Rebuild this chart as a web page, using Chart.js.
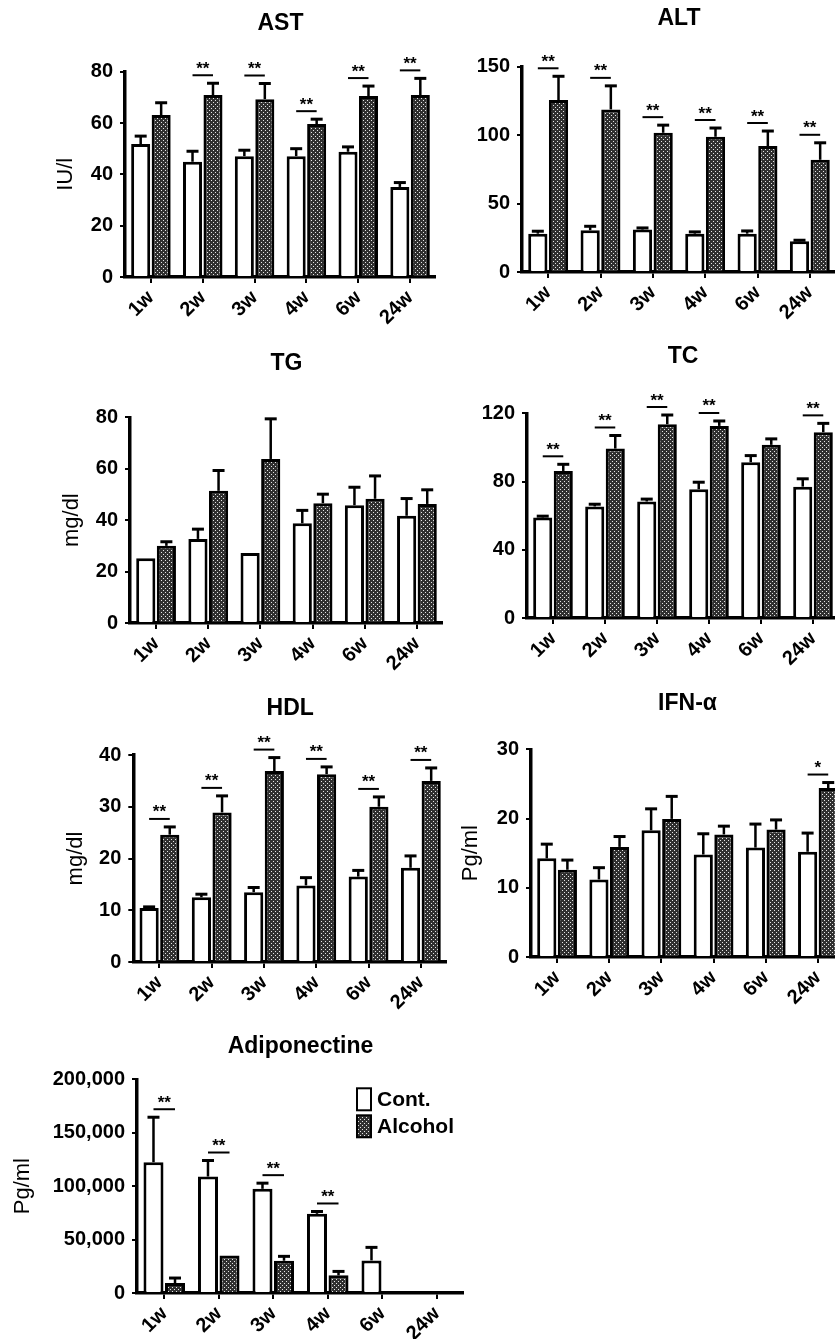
<!DOCTYPE html>
<html>
<head>
<meta charset="utf-8">
<script src="https://cdn.jsdelivr.net/npm/chart.js@4/dist/chart.umd.min.js"></script>
<style>
  html, body { margin: 0; padding: 0; background: #fff; }
  body { width: 835px; height: 1339px; overflow: hidden; position: relative; }
  canvas { position: absolute; }
</style>
</head>
<body>
<script>
// categories
var weeks = ['1w', '2w', '3w', '4w', '6w', '24w'];

// AST (IU/l)
var astTicks = [0, 20, 40, 60, 80];
var astCont = [51.8, 44.9, 47.1, 47.1, 48.8, 35.1];
var astContErr = [3.1, 4.1, 2.3, 2.9, 1.9, 1.7];
var astAlc = [63.1, 70.9, 69.3, 59.6, 70.5, 70.9];
var astAlcErr = [4.8, 4.6, 6.1, 1.9, 3.9, 6.5];
var astSig = ['', '**', '**', '**', '**', '**'];

// ALT
var altTicks = [0, 50, 100, 150];
var altCont = [28.0, 30.5, 31.0, 28.0, 28.0, 22.4];
var altContErr = [1.8, 2.9, 1.2, 1.3, 2.0, 0.8];
var altAlc = [125.6, 118.8, 101.7, 98.8, 92.0, 82.0];
var altAlcErr = [17.4, 17.2, 5.6, 6.4, 11.0, 12.4];
var altSig = ['**', '**', '**', '**', '**', '**'];

// TG (mg/dl)
var tgTicks = [0, 20, 40, 60, 80];
var tgCont = [25.2, 32.7, 27.2, 38.8, 45.8, 41.7];
var tgContErr = [0, 3.8, 0, 5.0, 7.0, 6.7];
var tgAlc = [30.0, 51.4, 63.8, 46.6, 48.3, 46.3];
var tgAlcErr = [1.6, 7.9, 15.6, 3.5, 8.9, 5.5];
var tgSig = ['', '', '', '', '', ''];

// TC
var tcTicks = [0, 40, 80, 120];
var tcCont = [58.9, 65.4, 68.3, 75.5, 91.3, 77.0];
var tcContErr = [0.8, 1.3, 1.4, 4.1, 3.9, 4.6];
var tcAlc = [86.2, 99.3, 113.6, 112.6, 101.5, 108.9];
var tcAlcErr = [3.9, 7.7, 5.4, 2.9, 3.5, 5.2];
var tcSig = ['**', '**', '**', '**', '', '**'];

// HDL (mg/dl)
var hdlTicks = [0, 10, 20, 30, 40];
var hdlCont = [10.45, 12.5, 13.5, 14.8, 16.5, 18.2];
var hdlContErr = [0.2, 0.6, 0.9, 1.5, 1.2, 2.3];
var hdlAlc = [24.6, 28.9, 36.9, 36.3, 30.0, 35.0];
var hdlAlcErr = [1.5, 3.2, 2.6, 1.4, 1.9, 2.5];
var hdlSig = ['**', '**', '**', '**', '**', '**'];

// IFN-alpha (Pg/ml)
var ifnTicks = [0, 10, 20, 30];
var ifnCont = [14.25, 11.2, 18.3, 14.8, 15.8, 15.2];
var ifnContErr = [2.05, 1.7, 3.1, 3.0, 3.4, 2.7];
var ifnAlc = [12.6, 15.9, 19.95, 17.7, 18.4, 24.4];
var ifnAlcErr = [1.4, 1.5, 3.25, 1.2, 1.4, 0.8];
var ifnSig = ['', '', '', '', '', '*'];

// Adiponectine (Pg/ml)
var adipoTicks = [0, 50000, 100000, 150000, 200000];
var adipoCont = [122400, 109000, 97500, 74100, 30500, 0];
var adipoContErr = [42100, 15000, 5300, 2200, 12200, 0];
var adipoAlc = [9300, 35200, 30200, 16500, 0, 0];
var adipoAlcErr = [4700, 0, 4100, 3700, 0, 0];
var adipoSig = ['**', '**', '**', '**', '', ''];

var seriesNames = ['Cont.', 'Alcohol'];

Chart.defaults.font.family = '"Liberation Sans", Arial, Helvetica, sans-serif';
Chart.defaults.color = '#000';

// dark stippled fill for the alcohol bars
function stipple() {
    var c = document.createElement('canvas');
    c.width = 4; c.height = 4;
    var g = c.getContext('2d');
    g.fillStyle = '#303030';
    g.fillRect(0, 0, 4, 4);
    g.fillStyle = '#e6e6e6';
    g.fillRect(0, 0, 1, 1);
    g.fillRect(2, 2, 1, 1);
    return g.createPattern(c, 'repeat');
}
var alcFill = stipple();

// upward error bars with caps
var errorBars = {
    id: 'errorBars',
    afterDatasetsDraw: function (chart) {
        var ctx = chart.ctx, y = chart.scales.y;
        ctx.save();
        ctx.strokeStyle = '#000';
        chart.data.datasets.forEach(function (ds, i) {
            chart.getDatasetMeta(i).data.forEach(function (bar, j) {
                var e = ds.errors[j];
                if (!e) return;
                var top = y.getPixelForValue(ds.data[j] + e);
                ctx.lineWidth = 2.5;
                ctx.beginPath();
                ctx.moveTo(bar.x, bar.y);
                ctx.lineTo(bar.x, top);
                ctx.stroke();
                ctx.lineWidth = 3;
                ctx.beginPath();
                ctx.moveTo(bar.x - 6, top);
                ctx.lineTo(bar.x + 6, top);
                ctx.stroke();
            });
        });
        ctx.restore();
    }
};

// significance line + stars over each pair
var sigMarks = {
    id: 'sigMarks',
    afterDatasetsDraw: function (chart) {
        var ctx = chart.ctx, y = chart.scales.y;
        var ds = chart.data.datasets;
        var marks = ds[1].marks || [];
        ctx.save();
        ctx.strokeStyle = '#000';
        ctx.fillStyle = '#000';
        ctx.lineWidth = 2;
        ctx.font = 'bold 17px "Liberation Sans", Arial, sans-serif';
        ctx.textAlign = 'center';
        ctx.textBaseline = 'alphabetic';
        marks.forEach(function (m, j) {
            if (!m) return;
            var a = chart.getDatasetMeta(0).data[j];
            var b = chart.getDatasetMeta(1).data[j];
            var top = Math.min(
                y.getPixelForValue(ds[0].data[j] + (ds[0].errors[j] || 0)),
                y.getPixelForValue(ds[1].data[j] + (ds[1].errors[j] || 0)));
            var ly = top - 8;
            ctx.beginPath();
            ctx.moveTo(a.x, ly);
            ctx.lineTo(b.x, ly);
            ctx.stroke();
            ctx.fillText(m, (a.x + b.x) / 2, ly - 1.5);
        });
        ctx.restore();
    }
};

// legend drawn inside the plot area (Adiponectine panel only)
var boxLegend = {
    id: 'boxLegend',
    afterDraw: function (chart, args, opts) {
        if (!opts.show) return;
        var ctx = chart.ctx, area = chart.chartArea;
        var x = area.left + opts.dx, y = area.top + opts.dy;
        ctx.save();
        ctx.font = 'bold 21px "Liberation Sans", Arial, sans-serif';
        ctx.textAlign = 'left';
        ctx.textBaseline = 'middle';
        ctx.lineWidth = 2;
        ctx.strokeStyle = '#000';
        chart.data.datasets.forEach(function (ds, i) {
            var by = y + i * 27;
            ctx.fillStyle = ds.backgroundColor;
            ctx.fillRect(x, by, 14, 22);
            ctx.strokeRect(x, by, 14, 22);
            ctx.fillStyle = '#000';
            ctx.fillText(ds.label, x + 20, by + 12);
        });
        ctx.restore();
    }
};

// where each panel sits on the page
var panels = [
    { title: 'AST', yTitle: 'IU/l', ticks: astTicks, cont: astCont, contErr: astContErr, alc: astAlc, alcErr: astAlcErr, sig: astSig,
      L: 125, T: 71.7, B: 276.7, R: 436, titleY: 24, yTitleX: 66 },
    { title: 'ALT', yTitle: '', ticks: altTicks, cont: altCont, contErr: altContErr, alc: altAlc, alcErr: altAlcErr, sig: altSig,
      L: 522, T: 66.7, B: 271.7, R: 836, titleY: 18.5, yTitleX: 0 },
    { title: 'TG', yTitle: 'mg/dl', ticks: tgTicks, cont: tgCont, contErr: tgContErr, alc: tgAlc, alcErr: tgAlcErr, sig: tgSig,
      L: 130, T: 417.3, B: 623.3, R: 443, titleY: 363.5, yTitleX: 71.7 },
    { title: 'TC', yTitle: '', ticks: tcTicks, cont: tcCont, contErr: tcContErr, alc: tcAlc, alcErr: tcAlcErr, sig: tcSig,
      L: 527, T: 413.3, B: 618.3, R: 839, titleY: 356.5, yTitleX: 0 },
    { title: 'HDL', yTitle: 'mg/dl', ticks: hdlTicks, cont: hdlCont, contErr: hdlContErr, alc: hdlAlc, alcErr: hdlAlcErr, sig: hdlSig,
      L: 133.3, T: 755, B: 962, R: 447, titleY: 708.5, yTitleX: 76 },
    { title: 'IFN-\u03b1', yTitle: 'Pg/ml', ticks: ifnTicks, cont: ifnCont, contErr: ifnContErr, alc: ifnAlc, alcErr: ifnAlcErr, sig: ifnSig,
      L: 531, T: 749.3, B: 956.7, R: 844, titleY: 703.5, yTitleX: 471 },
    { title: 'Adiponectine', yTitle: 'Pg/ml', ticks: adipoTicks, cont: adipoCont, contErr: adipoContErr, alc: adipoAlc, alcErr: adipoAlcErr, sig: adipoSig,
      L: 137, T: 1079.3, B: 1293.3, R: 464, titleY: 1046.5, yTitleX: 23, legend: true }
];

var TITLE_LH = 23 * 1.2;
var YTITLE_LH = 22 * 1.2;
var XAXIS_H = 50;

panels.forEach(function (p) {
    var left = Math.round(p.yTitle ? p.yTitleX - YTITLE_LH / 2 : p.L - 45);
    var top = Math.round(p.titleY - TITLE_LH / 2);
    var yw = p.L - left;
    var w = Math.round(p.R - left);
    var h = Math.round(p.B - top + XAXIS_H);

    var canvas = document.createElement('canvas');
    canvas.width = w;
    canvas.height = h;
    canvas.style.left = left + 'px';
    canvas.style.top = top + 'px';
    canvas.style.width = w + 'px';
    canvas.style.height = h + 'px';
    document.body.appendChild(canvas);

    new Chart(canvas.getContext('2d'), {
        type: 'bar',
        data: {
            labels: weeks,
            datasets: [{
                label: seriesNames[0],
                data: p.cont,
                errors: p.contErr,
                backgroundColor: '#fff',
                borderColor: '#000',
                borderWidth: 3
            }, {
                label: seriesNames[1],
                data: p.alc,
                errors: p.alcErr,
                marks: p.sig,
                backgroundColor: alcFill,
                borderColor: '#000',
                borderWidth: 3
            }]
        },
        options: {
            responsive: false,
            animation: false,
            devicePixelRatio: 1,
            layout: { padding: 0 },
            datasets: {
                bar: { categoryPercentage: 0.79, barPercentage: 0.93 }
            },
            plugins: {
                legend: { display: false },
                tooltip: { enabled: false },
                title: {
                    display: true,
                    text: p.title,
                    fullSize: false,
                    color: '#000',
                    font: { size: 23, weight: 'bold' },
                    padding: { top: 0, bottom: p.T - top - TITLE_LH }
                },
                boxLegend: { show: !!p.legend, dx: 220, dy: 9 }
            },
            scales: {
                x: {
                    afterFit: function (s) { s.height = XAXIS_H; },
                    grid: { display: true, offset: false, drawOnChartArea: false, drawTicks: true, tickLength: 6, color: '#000', lineWidth: 2 },
                    border: { display: true, color: '#000', width: 3.5 },
                    ticks: {
                        autoSkip: false,
                        maxRotation: 45,
                        minRotation: 45,
                        padding: 3,
                        color: '#000',
                        font: { size: 20, weight: 'bold' }
                    }
                },
                y: {
                    min: p.ticks[0],
                    max: p.ticks[p.ticks.length - 1],
                    afterFit: function (s) { s.width = yw; },
                    grid: { display: true, drawOnChartArea: false, drawTicks: true, tickLength: 5, color: '#000', lineWidth: 2 },
                    border: { display: true, color: '#000', width: 3.5 },
                    ticks: {
                        stepSize: p.ticks[1] - p.ticks[0],
                        padding: 7,
                        color: '#000',
                        font: { size: 20, weight: 'bold' }
                    },
                    title: {
                        display: !!p.yTitle,
                        text: p.yTitle,
                        padding: 0,
                        color: '#000',
                        font: { size: 22, weight: 'normal' }
                    }
                }
            }
        },
        plugins: [errorBars, sigMarks, boxLegend]
    });
});
</script>
</body>
</html>
